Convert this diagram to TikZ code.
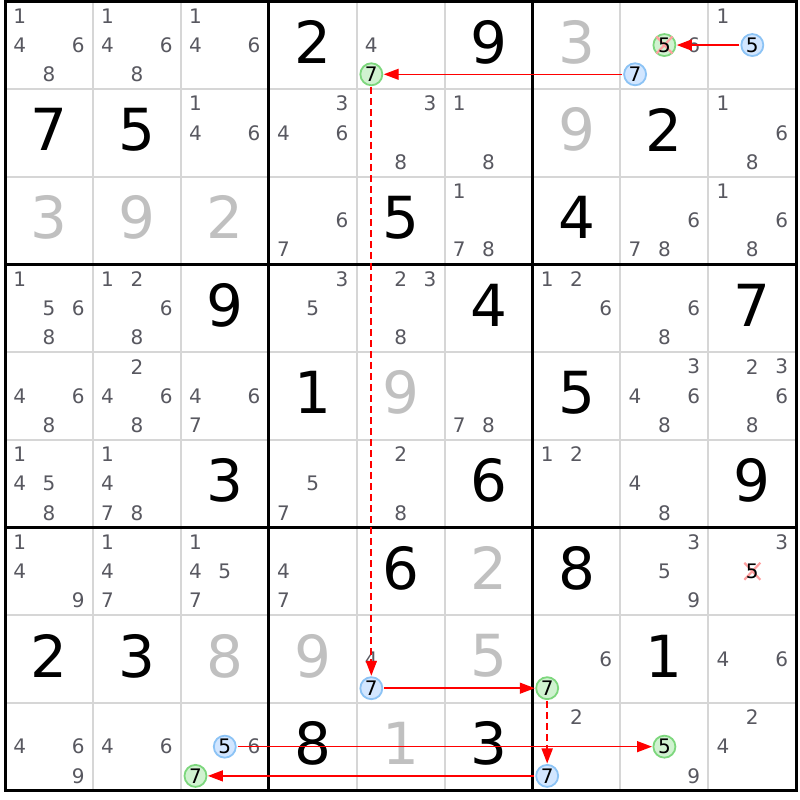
\documentclass[tikz,border=0pt]{standalone}
\usepackage{fontspec}
\setmainfont{DejaVu Sans}
\usetikzlibrary{arrows.meta}
\definecolor{pencil}{RGB}{88,88,96}
\definecolor{solved}{RGB}{192,192,192}
\definecolor{gridthin}{RGB}{214,214,214}
\definecolor{bluefill}{RGB}{210,230,255}
\definecolor{blueedge}{RGB}{140,195,245}
\definecolor{greenfill}{RGB}{208,242,208}
\definecolor{greenedge}{RGB}{125,215,125}
\definecolor{crossred}{RGB}{255,160,160}
\definecolor{linkred}{RGB}{255,0,0}
\begin{document}
\begin{tikzpicture}[x=1pt,y=-1pt,
  given/.style={font=\fontsize{58}{58}\selectfont, text=black, inner sep=0pt},
  solvedd/.style={given, text=solved},
  pm/.style={font=\fontsize{20}{20}\selectfont, text=pencil, inner sep=0pt},
  bluec/.style={circle, draw=blueedge, fill=bluefill, line width=1.8pt, minimum size=22pt, inner sep=0pt},
  greenc/.style={bluec, draw=greenedge, fill=greenfill},
  nocirc/.style={circle, minimum size=22pt, inner sep=0pt},
  cd/.style={font=\fontsize{20}{20}\selectfont, text=black, inner sep=0pt},
  xmark/.style={draw=crossred, line width=2.2pt},
  link/.style={draw=linkred, line width=1.4pt, -{Triangle[length=15pt,width=11pt]}, shorten >=0.5pt, shorten <=1pt},
  weak/.style={draw=linkred, line width=1.8pt, dash pattern=on 7pt off 4pt, -{Triangle[length=15pt,width=11pt]}, shorten >=0.5pt, shorten <=1pt},
  gthin/.style={draw=gridthin, line width=2pt},
  gthick/.style={draw=black, line width=3pt}
]
\useasboundingbox (0,0) rectangle (800,800);
\fill[white] (0,0) rectangle (800,800);
% thin grid
\foreach \i in {1,2,4,5,7,8} {
  \draw[gthin] ({5+87.92*\i},1.2) -- ({5+87.92*\i},790.5);
  \draw[gthin] (5,{1.2+87.7*\i}) -- (796.3,{1.2+87.7*\i});
}
% thick grid
\foreach \i in {3,6} {
  \draw[gthick] ({5+87.92*\i},1.2) -- ({5+87.92*\i},790.5);
  \draw[gthick] (5,{1.2+87.7*\i}) -- (796.3,{1.2+87.7*\i});
}
\draw[gthick] (5,1.2) rectangle (796.3,790.5);
% given digits
\foreach \r/\c/\d in {1/4/2,1/6/9,2/1/7,2/2/5,2/8/2,3/5/5,3/7/4,4/3/9,4/6/4,4/9/7,5/4/1,5/7/5,6/3/3,6/6/6,6/9/9,7/5/6,7/7/8,8/1/2,8/2/3,8/8/1,9/4/8,9/6/3} {
  \pgfmathsetmacro\X{5+87.92*(\c-0.5)}
  \pgfmathsetmacro\Y{1.2+87.7*(\r-0.5)-3}
  \node[given] (g\r\c) at (\X,\Y) {\d};
}
% solved digits
\foreach \r/\c/\d in {1/7/3,2/7/9,3/1/3,3/2/9,3/3/2,5/5/9,7/6/2,8/3/8,8/4/9,8/6/5,9/5/1} {
  \pgfmathsetmacro\X{5+87.92*(\c-0.5)}
  \pgfmathsetmacro\Y{1.2+87.7*(\r-0.5)-3}
  \node[solvedd] (s\r\c) at (\X,\Y) {\d};
}
% pencil marks
\foreach \r/\c/\L in {1/1/{1,4,6,8},1/2/{1,4,6,8},1/3/{1,4,6},1/5/{4},1/8/{6},1/9/{1},
  2/3/{1,4,6},2/4/{3,4,6},2/5/{3,8},2/6/{1,8},2/9/{1,6,8},
  3/4/{6,7},3/6/{1,7,8},3/8/{6,7,8},3/9/{1,6,8},
  4/1/{1,5,6,8},4/2/{1,2,6,8},4/4/{3,5},4/5/{2,3,8},4/7/{1,2,6},4/8/{6,8},
  5/1/{4,6,8},5/2/{2,4,6,8},5/3/{4,6,7},5/6/{7,8},5/8/{3,4,6,8},5/9/{2,3,6,8},
  6/1/{1,4,5,8},6/2/{1,4,7,8},6/4/{5,7},6/5/{2,8},6/7/{1,2},6/8/{4,8},
  7/1/{1,4,9},7/2/{1,4,7},7/3/{1,4,5,7},7/4/{4,7},7/8/{3,5,9},7/9/{3},
  8/5/{4},8/7/{6},8/9/{4,6},
  9/1/{4,6,9},9/2/{4,6},9/3/{6},9/7/{2},9/8/{9},9/9/{2,4}} {
  \foreach \d in \L {
    \pgfmathtruncatemacro\pc{mod(\d-1,3)}
    \pgfmathtruncatemacro\pr{(\d-1)/3}
    \pgfmathsetmacro\X{5+87.92*(\c-1)+87.92*(2*\pc+1)/6}
    \pgfmathsetmacro\Y{1.2+87.7*(\r-1)+87.7*(2*\pr+1)/6}
    \node[pm] (p\r\c\d) at (\X,\Y) {\d};
  }
}
% highlighted candidates
\foreach \r/\c/\d/\s in {1/5/7/greenc,1/8/5/greenc,1/8/7/bluec,1/9/5/bluec,7/9/5/nocirc,
  8/5/7/bluec,8/7/7/greenc,9/3/5/bluec,9/3/7/greenc,9/7/7/bluec,9/8/5/greenc} {
  \pgfmathtruncatemacro\pc{mod(\d-1,3)}
  \pgfmathtruncatemacro\pr{(\d-1)/3}
  \pgfmathsetmacro\X{5+87.92*(\c-1)+87.92*(2*\pc+1)/6}
  \pgfmathsetmacro\Y{1.2+87.7*(\r-1)+87.7*(2*\pr+1)/6}
  \node[\s] (k\r\c\d) at (\X,\Y) {};
}
\draw[xmark] (k185.center) ++(-8,-8.5) -- ++(16,17);
\draw[xmark] (k185.center) ++(8,-8.5) -- ++(-16,17);
\draw[xmark] (k795.center) ++(-8,-8.5) -- ++(16,17);
\draw[xmark] (k795.center) ++(8,-8.5) -- ++(-16,17);
\foreach \n/\d in {157/7,185/5,187/7,195/5,795/5,857/7,877/7,935/5,937/7,977/7,985/5} {
  \node[cd] (t\n) at (k\n) {\d};
}
% chain
\draw[link] (k195) -- (k185);
\draw[link] (k187) -- (k157);
\draw[weak] (k157) -- (k857);
\draw[link] (k857) -- (k877);
\draw[weak] (k877) -- (k977);
\draw[link] (k977) -- (k937);
\draw[link] (k935) -- (k985);
\end{tikzpicture}
\end{document}
